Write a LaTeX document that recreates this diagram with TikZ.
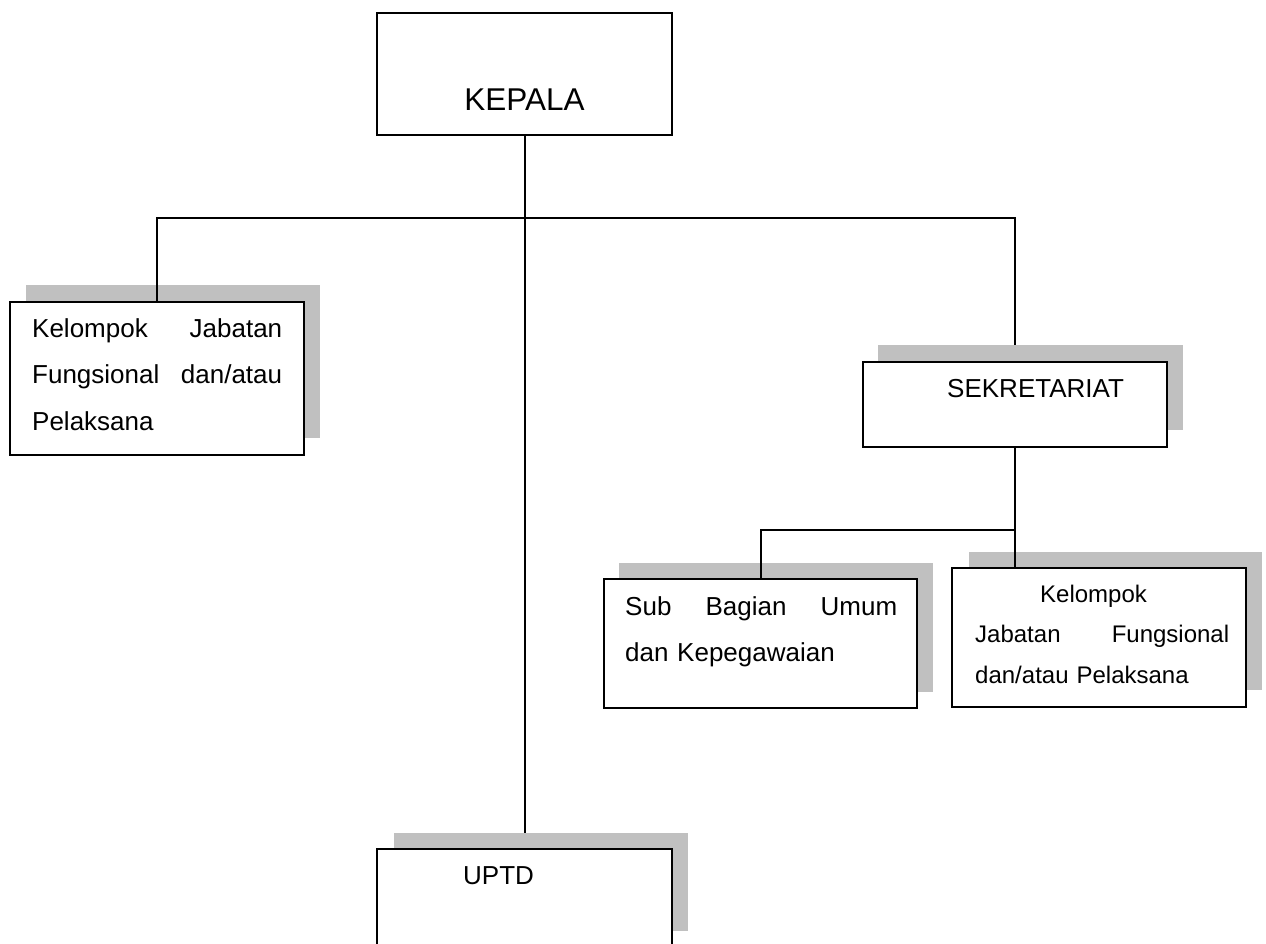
\documentclass[tikz,border=0pt]{standalone}
\usepackage{fontspec}
\setmainfont{Liberation Sans}
\definecolor{shadowgray}{RGB}{192,192,192}
\tikzset{
  orgbox/.style={draw=black, line width=2pt, fill=white, inner sep=0pt},
  shadowbox/.style={fill=shadowgray, draw=none, inner sep=0pt},
  conn/.style={line width=2pt},
  bodytext/.style={inner sep=0pt, font={\fontsize{26pt}{46.5pt}\selectfont}},
  smalltext/.style={inner sep=0pt, font={\fontsize{24pt}{40.5pt}\selectfont}},
}
\begin{document}
\begin{tikzpicture}[x=1pt,y=-1pt]
\path[use as bounding box, clip] (0,0) rectangle (1266,943);
% shadows
\node[shadowbox, minimum width=294pt, minimum height=153pt] (kelASh) at (173,361.5) {};
\node[shadowbox, minimum width=305pt, minimum height=85pt] (sekSh) at (1030.5,387.5) {};
\node[shadowbox, minimum width=314pt, minimum height=129pt] (subSh) at (776,627.5) {};
\node[shadowbox, minimum width=293pt, minimum height=138pt] (kelBSh) at (1115.5,621) {};
\node[shadowbox, minimum width=294pt, minimum height=98pt] (uptdSh) at (541,882) {};
% connector helper points
\coordinate (bus) at (524,218);
\coordinate (branch) at (890,530);
% boxes
\node[orgbox, minimum width=295pt, minimum height=122pt] (kepala) at (524.5,74) {};
\node[orgbox, minimum width=294pt, minimum height=153pt] (kelA) at (157,378.5) {};
\node[orgbox, minimum width=304pt, minimum height=85pt] (sek) at (1015,404.5) {};
\node[orgbox, minimum width=313pt, minimum height=129pt] (sub) at (760.5,643.5) {};
\node[orgbox, minimum width=294pt, minimum height=139pt] (kelB) at (1099,637.5) {};
\node[orgbox, minimum width=295pt, minimum height=120pt] (uptd) at (524.5,909) {};
% connector lines
\draw[conn] (kepala.south) -- (kepala.south |- uptdSh.north);
\draw[conn] (kelA.north) |- (bus) -| (sek.north |- sekSh.north);
\draw[conn] (sek.south) -- (sek.south |- kelB.north);
\draw[conn] (sek.south |- branch) -| (sub.north);
% texts
\node[inner sep=0pt, font={\fontsize{31.5pt}{36pt}\selectfont}, anchor=base] (kepalaT) at (524.5,110) {KEPALA};
\node[bodytext, anchor=base west, text width=250pt, align=left] (kelAT) at (32,337) {Kelompok\hfill Jabatan\\Fungsional\hfill dan/atau\\Pelaksana};
\node[bodytext, anchor=base west] (sekT) at (947,397) {SEKRETARIAT};
\node[bodytext, anchor=base west, text width=272pt, align=left] (subT) at (625,615) {Sub\hfill Bagian\hfill Umum\\dan Kepegawaian};
\node[smalltext, anchor=base west, text width=254pt, align=left] (kelBT) at (975,602) {\hspace*{65pt}Kelompok\\Jabatan\hfill Fungsional\\dan/atau Pelaksana};
\node[bodytext, anchor=base west] (uptdT) at (463,884) {UPTD};
\end{tikzpicture}
\end{document}
